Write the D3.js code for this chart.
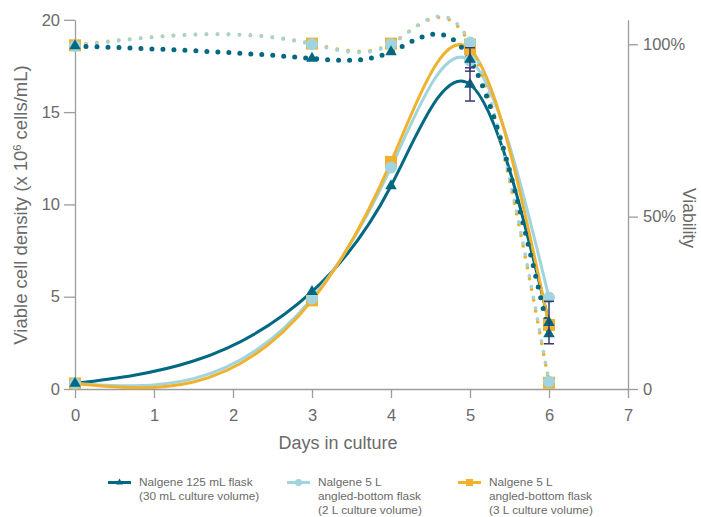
<!DOCTYPE html>
<html>
<head>
<meta charset="utf-8">
<script src="https://cdn.jsdelivr.net/npm/d3@7"></script>
<style>
  body { margin: 0; background: #fff; }
  svg text { font-family: "Liberation Sans", Arial, Helvetica, sans-serif; fill: #6a6a6a; }
</style>
</head>
<body>
<svg id="chart" width="701" height="517"></svg>
<script>
// Sampling days
const days = [0, 3, 4, 5, 6];

// Viable cell density (x 10^6 cells/mL)
const density125mL = [0.3, 5.27, 11.0, 16.5, 3.6];
const density5L2L  = [0.3, 4.9, 12.0, 17.8, 4.95];
const density5L3L  = [0.3, 4.8, 12.3, 18.4, 3.47];

// Viability (%)
const viability125mL = [99.5, 95.9, 97.8, 95.6, 16.0];
const viability5L2L  = [99.5, 100.0, 100.0, 100.5, 2.1];
const viability5L3L  = [99.7, 100.2, 100.2, 99.9, 1.8];

// Standard deviations shown for the 125 mL flask
const density125mLErr   = [null, null, null, 0.9, 1.15];
const viability125mLErr = [null, null, null, 3.4, null];

// Axis ticks
const dayTicks = [0, 1, 2, 3, 4, 5, 6, 7];
const densityTicks = [0, 5, 10, 15, 20];
const viabilityTicks = [0, 50, 100];

// Legend
const seriesNames = [
  ["Nalgene 125 mL flask", "(30 mL culture volume)"],
  ["Nalgene 5 L", "angled-bottom flask", "(2 L culture volume)"],
  ["Nalgene 5 L", "angled-bottom flask", "(3 L culture volume)"]
];

const colDark = "#006880", colLight = "#a0d4de", colOrange = "#f0b22e", colErr = "#3b3870";
const axisCol = "#9c9c9c";

const svg = d3.select("#chart");

const x = d3.scaleLinear().domain([0, 7]).range([75, 628]);
const yL = d3.scaleLinear().domain([0, 20]).range([389, 19.8]);
const yR = d3.scaleLinear().domain([0, 107.1]).range([389, 19.8]);

// Natural cubic spline through the points, taken as a function of x
function splineSecondDerivs(xs, ys) {
  const n = xs.length, m = new Array(n).fill(0);
  const a = [], b = [], c = [], r = [];
  for (let i = 1; i < n - 1; i++) {
    const h0 = xs[i] - xs[i - 1], h1 = xs[i + 1] - xs[i];
    a.push(h0); b.push(2 * (h0 + h1)); c.push(h1);
    r.push(6 * ((ys[i + 1] - ys[i]) / h1 - (ys[i] - ys[i - 1]) / h0));
  }
  const k = a.length;
  for (let i = 1; i < k; i++) {
    const w = a[i] / b[i - 1];
    b[i] -= w * c[i - 1];
    r[i] -= w * r[i - 1];
  }
  const s = new Array(k);
  s[k - 1] = r[k - 1] / b[k - 1];
  for (let i = k - 2; i >= 0; i--) s[i] = (r[i] - c[i] * s[i + 1]) / b[i];
  for (let i = 0; i < k; i++) m[i + 1] = s[i];
  return m;
}
function NaturalX(context) { this._context = context; }
NaturalX.prototype = {
  areaStart() { this._line = 0; },
  areaEnd() { this._line = NaN; },
  lineStart() { this._x = []; this._y = []; },
  point(px, py) { this._x.push(+px); this._y.push(+py); },
  lineEnd() {
    const xs = this._x, ys = this._y, n = xs.length, ctx = this._context;
    if (n) {
      this._line ? ctx.lineTo(xs[0], ys[0]) : ctx.moveTo(xs[0], ys[0]);
      if (n === 2) ctx.lineTo(xs[1], ys[1]);
      else if (n > 2) {
        const m = splineSecondDerivs(xs, ys);
        for (let i = 0; i < n - 1; i++) {
          const h = xs[i + 1] - xs[i];
          const sl = (ys[i + 1] - ys[i]) / h;
          const d0 = sl - h * (2 * m[i] + m[i + 1]) / 6;
          const d1 = sl + h * (m[i] + 2 * m[i + 1]) / 6;
          ctx.bezierCurveTo(xs[i] + h / 3, ys[i] + d0 * h / 3,
                            xs[i + 1] - h / 3, ys[i + 1] - d1 * h / 3,
                            xs[i + 1], ys[i + 1]);
        }
      }
    }
    if (this._line || (this._line !== 0 && n === 1)) ctx.closePath();
    this._line = 1 - this._line;
    this._x = this._y = null;
  }
};
const curveNaturalX = ctx => new NaturalX(ctx);

// Axes
const gL = svg.append("g").attr("transform", `translate(${x(0)},0)`)
  .call(d3.axisLeft(yL).tickValues(densityTicks).tickSize(11).tickSizeOuter(0).tickPadding(4));
const gR = svg.append("g").attr("transform", `translate(${x(7)},0)`)
  .call(d3.axisRight(yR).tickValues(viabilityTicks).tickSize(10).tickSizeOuter(0).tickPadding(5)
    .tickFormat(d => d === 0 ? "0" : d + "%"));
const gB = svg.append("g").attr("transform", `translate(0,${yL(0)})`)
  .call(d3.axisBottom(x).tickValues(dayTicks).tickFormat(d3.format("d"))
    .tickSize(9).tickSizeOuter(0).tickPadding(11));
[gL, gR, gB].forEach(g => {
  g.selectAll("path.domain").attr("stroke", axisCol).attr("stroke-width", 1.3);
  g.selectAll(".tick line").attr("stroke", axisCol).attr("stroke-width", 1.3);
  g.selectAll(".tick text").style("font-size", "16.5px").attr("fill", "#6a6a6a");
});

// Axis titles
const leftTitle = svg.append("text")
  .attr("transform", "translate(27,205) rotate(-90)")
  .attr("text-anchor", "middle").style("font-size", "18.5px");
leftTitle.append("tspan").text("Viable cell density (x 10");
leftTitle.append("tspan").attr("dy", -6).style("font-size", "11px").text("6");
leftTitle.append("tspan").attr("dy", 6).text(" cells/mL)");

svg.append("text").attr("x", 338).attr("y", 449)
  .attr("text-anchor", "middle").style("font-size", "18px").text("Days in culture");

svg.append("text").attr("transform", "translate(683,218) rotate(90)")
  .attr("text-anchor", "middle").style("font-size", "17.5px").text("Viability");

// Series
const series = [
  { dens: density125mL, via: viability125mL, col: colDark, sym: d3.symbolTriangle, size: 58, dot: 5 },
  { dens: density5L2L, via: viability5L2L, col: colLight, sym: d3.symbolCircle, size: 113, dot: 3.8 },
  { dens: density5L3L, via: viability5L3L, col: colOrange, sym: d3.symbolSquare, size: 144, dot: 3.8 }
];

const lineL = d3.line().x((d, i) => x(days[i])).y(d => yL(d)).curve(curveNaturalX);
const lineR = d3.line().x((d, i) => x(days[i])).y(d => yR(d)).curve(curveNaturalX);

// Density (solid)
svg.append("g").selectAll("path").data(series).join("path")
  .attr("d", s => lineL(s.dens))
  .attr("fill", "none").attr("stroke", s => s.col).attr("stroke-width", 3)
  .attr("stroke-linejoin", "round");

// Viability (dotted)
svg.append("g").selectAll("path").data([series[2], series[1], series[0]]).join("path")
  .attr("d", s => lineR(s.via))
  .attr("fill", "none").attr("stroke", s => s.col).attr("stroke-width", s => s.dot)
  .attr("stroke-linecap", "round").attr("stroke-dasharray", "0 11");

// Markers
const markerOrder = [series[2], series[1], series[0]];
markerOrder.forEach(s => {
  const sym = d3.symbol().type(s.sym).size(s.size)();
  const g = svg.append("g").attr("fill", s.col);
  g.selectAll("path.dm").data(s.dens).join("path").attr("class", "dm")
    .attr("d", sym).attr("transform", (d, i) => `translate(${x(days[i])},${yL(d)})`);
  g.selectAll("path.vm").data(s.via).join("path").attr("class", "vm")
    .attr("d", sym).attr("transform", (d, i) => `translate(${x(days[i])},${yR(d)})`);
});

// Error bars
const errG = svg.append("g").attr("stroke", colErr).attr("stroke-width", 1.5).attr("fill", "none");
function errorBars(vals, errs, scale) {
  vals.forEach((v, i) => {
    const e = errs[i];
    if (e == null) return;
    const cx = x(days[i]), y1 = scale(v - e), y2 = scale(v + e);
    errG.append("line").attr("x1", cx).attr("x2", cx).attr("y1", y1).attr("y2", y2);
    errG.append("line").attr("x1", cx - 5).attr("x2", cx + 5).attr("y1", y1).attr("y2", y1);
    errG.append("line").attr("x1", cx - 5).attr("x2", cx + 5).attr("y1", y2).attr("y2", y2);
  });
}
errorBars(density125mL, density125mLErr, yL);
errorBars(viability125mL, viability125mLErr, yR);

// Legend
const legendX = [108, 287, 458];
const legend = svg.append("g");
series.forEach((s, k) => {
  const lx = legendX[k], ly = 482.5;
  const g = legend.append("g");
  g.append("line").attr("x1", lx).attr("x2", lx + 23).attr("y1", ly).attr("y2", ly)
    .attr("stroke", s.col).attr("stroke-width", 3);
  g.append("path").attr("d", d3.symbol().type(s.sym).size(s.size * 0.35)())
    .attr("transform", `translate(${lx + 11.5},${ly})`).attr("fill", s.col);
  const t = g.append("text").attr("x", lx + 31).attr("y", 486).style("font-size", "11.8px");
  seriesNames[k].forEach((line, j) => {
    t.append("tspan").attr("x", lx + 31).attr("dy", j === 0 ? 0 : 14).text(line);
  });
});
</script>
</body>
</html>
